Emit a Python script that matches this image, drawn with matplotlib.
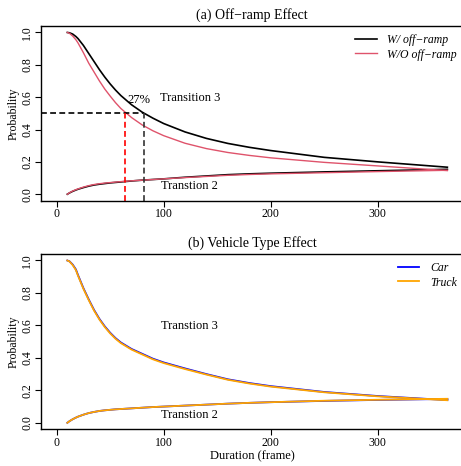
import matplotlib
matplotlib.use("Agg")
import matplotlib.pyplot as plt

plt.rcParams['font.family'] = ['Liberation Serif', 'DejaVu Serif']

# ---------------- data ----------------
duration = [10, 12, 15, 18, 20, 25, 30, 35, 40, 45, 50, 55, 60, 70, 80, 90, 100,
            120, 140, 160, 180, 200, 250, 300, 365]

w_ramp_t3 = [1.0, 0.998, 0.99, 0.975, 0.962, 0.92, 0.87, 0.82, 0.77, 0.724, 0.682,
             0.644, 0.61, 0.553, 0.507, 0.47, 0.437, 0.385, 0.345, 0.314, 0.29,
             0.27, 0.228, 0.2, 0.167]
wo_ramp_t3 = [1.0, 0.995, 0.978, 0.955, 0.935, 0.875, 0.81, 0.755, 0.70, 0.65,
              0.607, 0.566, 0.53, 0.474, 0.428, 0.392, 0.362, 0.315, 0.282, 0.258,
              0.24, 0.225, 0.197, 0.175, 0.146]
w_ramp_t2 = [0.0, 0.008, 0.018, 0.026, 0.031, 0.041, 0.05, 0.057, 0.062, 0.066,
             0.07, 0.073, 0.076, 0.082, 0.087, 0.091, 0.095, 0.105, 0.113, 0.121,
             0.126, 0.13, 0.138, 0.145, 0.154]
wo_ramp_t2 = [0.0, 0.009, 0.02, 0.028, 0.033, 0.044, 0.053, 0.06, 0.065, 0.069,
              0.072, 0.075, 0.078, 0.083, 0.087, 0.091, 0.095, 0.103, 0.11, 0.117,
              0.122, 0.126, 0.133, 0.14, 0.148]

car_t3 = [1.0, 0.995, 0.975, 0.945, 0.91, 0.83, 0.76, 0.695, 0.64, 0.594, 0.555,
          0.522, 0.495, 0.455, 0.425, 0.395, 0.372, 0.335, 0.3, 0.268, 0.245,
          0.226, 0.19, 0.165, 0.14]
truck_t3 = [1.0, 0.994, 0.972, 0.941, 0.906, 0.826, 0.756, 0.691, 0.636, 0.590,
            0.551, 0.518, 0.491, 0.451, 0.421, 0.391, 0.368, 0.331, 0.297, 0.265,
            0.242, 0.223, 0.188, 0.163, 0.139]
car_t2 = [0.0, 0.01, 0.022, 0.032, 0.038, 0.05, 0.06, 0.067, 0.073, 0.077, 0.08,
          0.083, 0.085, 0.089, 0.093, 0.097, 0.1, 0.106, 0.112, 0.118, 0.123,
          0.127, 0.135, 0.141, 0.147]
truck_t2 = [0.0, 0.01, 0.022, 0.032, 0.038, 0.05, 0.06, 0.067, 0.073, 0.077, 0.08,
            0.083, 0.085, 0.089, 0.093, 0.097, 0.1, 0.106, 0.112, 0.118, 0.123,
            0.127, 0.136, 0.142, 0.148]

half_w = 81.6      # duration where W/ off-ramp T3 = 0.5
half_wo = 64.2     # duration where W/O off-ramp T3 = 0.5

x_ticks = [0, 100, 200, 300]
y_ticks = [0.0, 0.2, 0.4, 0.6, 0.8, 1.0]
y_labels = ["0.0", "0.2", "0.4", "0.6", "0.8", "1.0"]

XLIM = (-14.6, 379.6)
YLIM = (-0.04, 1.04)

fig = plt.figure(figsize=(4.61, 4.66), dpi=100)
W, H = 461, 466
axa = fig.add_axes([41 / W, (H - 200.7) / H, (463 - 41) / W, (200.7 - 26) / H])
axb = fig.add_axes([41 / W, (H - 429.3) / H, (463 - 41) / W, (429.3 - 254) / H])


def style(ax):
    ax.set_xlim(*XLIM)
    ax.set_ylim(*YLIM)
    ax.spines['right'].set_visible(False)
    for s in ['left', 'bottom', 'top']:
        ax.spines[s].set_linewidth(1.0)
    ax.set_xticks(x_ticks)
    ax.set_xticklabels([str(t) for t in x_ticks])
    ax.set_yticks(y_ticks)
    ax.set_yticklabels(y_labels, rotation=90, va='center')
    ax.tick_params(direction='out', length=4, width=0.8, labelsize=8.5, pad=1.5)
    ax.set_ylabel("Probability", fontsize=8.5)
    ax.yaxis.set_label_coords(-0.05, 0.5)


# ---------- panel (a) ----------
axa.plot(duration, w_ramp_t3, color='black', lw=1.2, label="W/ off\u2212ramp")
axa.plot(duration, w_ramp_t2, color='black', lw=1.2)
axa.plot(duration, wo_ramp_t3, color='#DF536B', lw=1.0, label="W/O off\u2212ramp")
axa.plot(duration, wo_ramp_t2, color='#DF536B', lw=1.0)
axa.plot([XLIM[0], half_w], [0.5, 0.5], color='black', lw=1.2, ls=(0, (3.5, 2)))
axa.plot([half_wo, half_wo], [YLIM[0], 0.5], color='red', lw=1.2, ls=(0, (3.5, 2)))
axa.plot([half_w, half_w], [YLIM[0], 0.5], color='#333333', lw=1.2, ls=(0, (3.5, 2)))
axa.text(77, 0.58, "27%", fontsize=9, ha='center', va='center')
axa.text(125, 0.596, "Transition 3", fontsize=9, ha='center', va='center')
axa.text(124, 0.05, "Transtion 2", fontsize=9, ha='center', va='center')
style(axa)
axa.set_title("(a) Off\u2212ramp Effect", fontsize=10, pad=5)
axa.legend(loc='upper right', bbox_to_anchor=(1.005, 1.0), frameon=False,
           prop={'style': 'italic', 'size': 8.5}, handlelength=1.8,
           handletextpad=0.9, borderaxespad=0.3, labelspacing=0.2)

# ---------- panel (b) ----------
axb.plot(duration, car_t3, color='blue', lw=1.3, label="Car")
axb.plot(duration, car_t2, color='blue', lw=1.3)
axb.plot(duration, truck_t3, color='orange', lw=1.3, label="Truck")
axb.plot(duration, truck_t2, color='orange', lw=1.3)
axb.text(124, 0.595, "Transtion 3", fontsize=9, ha='center', va='center')
axb.text(124, 0.048, "Transtion 2", fontsize=9, ha='center', va='center')
style(axb)
axb.set_title("(b) Vehicle Type Effect", fontsize=10, pad=5)
axb.set_xlabel("Duration (frame)", fontsize=9, labelpad=1)
axb.legend(loc='upper right', bbox_to_anchor=(1.005, 1.0), frameon=False,
           prop={'style': 'italic', 'size': 8.5}, handlelength=1.8,
           handletextpad=0.9, borderaxespad=0.3, labelspacing=0.2)

fig.savefig("out.png", dpi=100)
